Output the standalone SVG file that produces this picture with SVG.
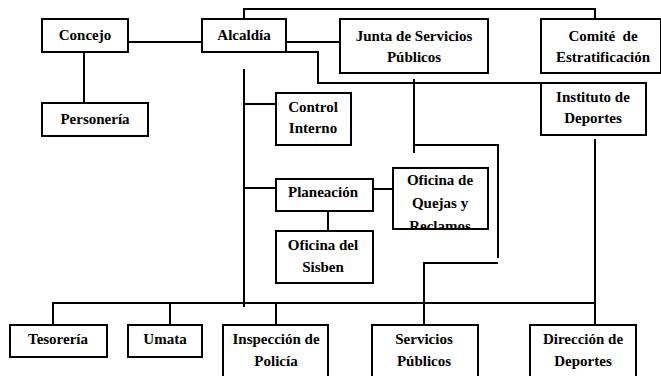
<svg xmlns="http://www.w3.org/2000/svg" width="661" height="376" viewBox="0 0 661 376">
<style>
.box{fill:#fff;stroke:#000;stroke-width:2}
.ln{fill:none;stroke:#000;stroke-width:2}
</style>
<defs>
<clipPath id="cq"><rect x="393" y="168" width="95" height="61"/></clipPath>
</defs>
<rect width="661" height="376" fill="#fff"/>
<g id="connectors" class="ln">
<path d="M128 42H202"/>
<path d="M84 52V103"/>
<path d="M286 42H340"/>
<path d="M244 19V9H595V19"/>
<path d="M286 52H318V83H541"/>
<path d="M414 79V153"/>
<path d="M414 145H498V258"/>
<path d="M498 263H424V325"/>
<path d="M244 69V307"/>
<path d="M244 104H276"/>
<path d="M244 188H276"/>
<path d="M373 189H393"/>
<path d="M328 211V231"/>
<path d="M595 139V325"/>
<path d="M53 325V303H595"/>
<path d="M170 303V325"/>
<path d="M276 303V325"/>
</g>
<g font-family="Liberation Serif, Times New Roman, serif" font-weight="bold" font-size="15" text-anchor="middle" fill="#000">
<g id="concejo"><rect class="box" x="42" y="19" width="86" height="33"/><text x="85" y="40">Concejo</text></g>
<g id="personeria"><rect class="box" x="42" y="103" width="106" height="33"/><text x="95" y="124">Personería</text></g>
<g id="alcaldia"><rect class="box" x="202" y="19" width="84" height="33"/><text x="244" y="40">Alcaldía</text></g>
<g id="junta"><rect class="box" x="340" y="19" width="148" height="54"/><text x="414" y="41">Junta de Servicios</text><text x="414" y="62">Públicos</text></g>
<g id="comite"><rect class="box" x="541" y="19" width="120" height="54"/><text x="603" y="41" xml:space="preserve">Comité  de</text><text x="603" y="62">Estratificación</text></g>
<g id="instituto"><rect class="box" x="541" y="83" width="105" height="52"/><text x="593" y="102">Instituto de</text><text x="593" y="123">Deportes</text></g>
<g id="control"><rect class="box" x="276" y="93" width="75" height="52"/><text x="313" y="112">Control</text><text x="313" y="133">Interno</text></g>
<g id="planeacion"><rect class="box" x="276" y="179" width="97" height="32"/><text x="323" y="197">Planeación</text></g>
<g id="quejas"><rect class="box" x="393" y="168" width="95" height="61"/><g clip-path="url(#cq)"><text x="440" y="185">Oficina de</text><text x="440" y="208">Quejas y</text><text x="440" y="231">Reclamos</text></g><path class="ln" d="M393 229H488"/></g>
<g id="sisben"><rect class="box" x="276" y="231" width="97" height="52"/><text x="323" y="250">Oficina del</text><text x="323" y="272">Sisben</text></g>
<g id="tesoreria"><rect class="box" x="10" y="325" width="97" height="32"/><text x="58" y="344">Tesorería</text></g>
<g id="umata"><rect class="box" x="128" y="325" width="74" height="32"/><text x="165" y="344">Umata</text></g>
<g id="inspeccion"><rect class="box" x="223" y="325" width="105" height="60"/><text x="276" y="344">Inspección de</text><text x="276" y="366">Policía</text></g>
<g id="servicios"><rect class="box" x="372" y="325" width="106" height="60"/><text x="424" y="344">Servicios</text><text x="424" y="366">Públicos</text></g>
<g id="direccion"><rect class="box" x="530" y="325" width="106" height="60"/><text x="583" y="344">Dirección de</text><text x="583" y="366">Deportes</text></g>
</g>
</svg>
